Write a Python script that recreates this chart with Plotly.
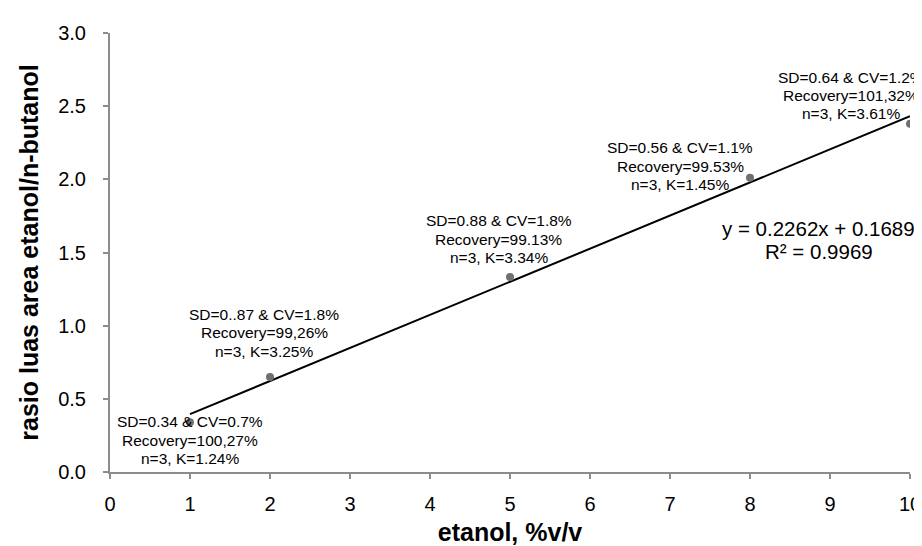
import plotly.graph_objects as go

# data
x_vals = [1, 2, 5, 8, 10]
y_vals = [0.34, 0.65, 1.333, 2.01, 2.38]
slope = 0.2262
intercept = 0.1689
r2 = 0.9969
labels = [
    ["SD=0.34 & CV=0.7%", "Recovery=100,27%", "n=3, K=1.24%"],
    ["SD=0..87 & CV=1.8%", "Recovery=99,26%", "n=3, K=3.25%"],
    ["SD=0.88 & CV=1.8%", "Recovery=99.13%", "n=3, K=3.34%"],
    ["SD=0.56 & CV=1.1%", "Recovery=99.53%", "n=3, K=1.45%"],
    ["SD=0.64 & CV=1.2%", "Recovery=101,32%", "n=3, K=3.61%"],
]
x_ticks = list(range(0, 11))
y_ticks = [0.0, 0.5, 1.0, 1.5, 2.0, 2.5, 3.0]

# label anchor positions (x in data units, first-line y in data units)
label_pos = [(1.0, 0.342), (1.93, 1.075), (4.86, 1.717), (7.13, 2.215), (9.26, 2.697)]
line_step = 0.125

trend_x = [x_vals[0], x_vals[-1]]
trend_y = [slope * v + intercept for v in trend_x]

FONT = "Liberation Sans, Arial, sans-serif"
AXIS_GRAY = "#8c8c8c"

fig = go.Figure()
fig.add_trace(go.Scatter(x=trend_x, y=trend_y, mode="lines",
                         line=dict(color="black", width=2), showlegend=False,
                         hoverinfo="skip"))
fig.add_trace(go.Scatter(x=x_vals, y=y_vals, mode="markers",
                         marker=dict(color="#707070", size=8), showlegend=False))

annotations = []
for (ax, ay), lines in zip(label_pos, labels):
    for i, t in enumerate(lines):
        annotations.append(dict(x=ax, y=ay - i * line_step, xref="x", yref="y",
                                text=t, showarrow=False,
                                font=dict(family=FONT, size=15.5, color="black"),
                                xanchor="center", yanchor="middle"))

annotations.append(dict(x=8.86, y=1.661, xref="x", yref="y",
                        text=f"y = {slope:.4f}x + {intercept:.4f}", showarrow=False,
                        font=dict(family=FONT, size=20.5, color="black"),
                        xanchor="center", yanchor="middle"))
annotations.append(dict(x=8.86, y=1.508, xref="x", yref="y",
                        text=f"R² = {r2:.4f}", showarrow=False,
                        font=dict(family=FONT, size=20.5, color="black"),
                        xanchor="center", yanchor="middle"))

fig.update_layout(
    width=922, height=546,
    margin=dict(l=102, r=20, t=25, b=82),
    paper_bgcolor="white", plot_bgcolor="white",
    font=dict(family=FONT, color="black"),
    annotations=annotations,
    xaxis=dict(range=[0, 10], tickvals=x_ticks, ticktext=[str(v) for v in x_ticks],
               automargin=False,
               showgrid=False, zeroline=False, showline=True, linecolor=AXIS_GRAY,
               linewidth=2, ticks="outside", tickcolor=AXIS_GRAY, ticklen=5, tickwidth=2,
               ticklabelstandoff=8,
               tickfont=dict(size=20, family=FONT, color="black"),
               title=dict(text="<b>etanol, %v/v</b>", font=dict(size=25, family=FONT, color="black"),
                          standoff=9)),
    yaxis=dict(range=[0, 3], tickvals=y_ticks, ticktext=[f"{v:.1f}" for v in y_ticks],
               automargin=False,
               showgrid=False, zeroline=False, showline=True, linecolor=AXIS_GRAY,
               linewidth=2, ticks="outside", tickcolor=AXIS_GRAY, ticklen=5, tickwidth=2,
               ticklabelstandoff=13,
               tickfont=dict(size=20, family=FONT, color="black"),
               title=dict(text="<b>rasio luas area etanol/n-butanol</b>",
                          font=dict(size=25, family=FONT, color="black"), standoff=12)),
)

fig.write_html("out.html")
